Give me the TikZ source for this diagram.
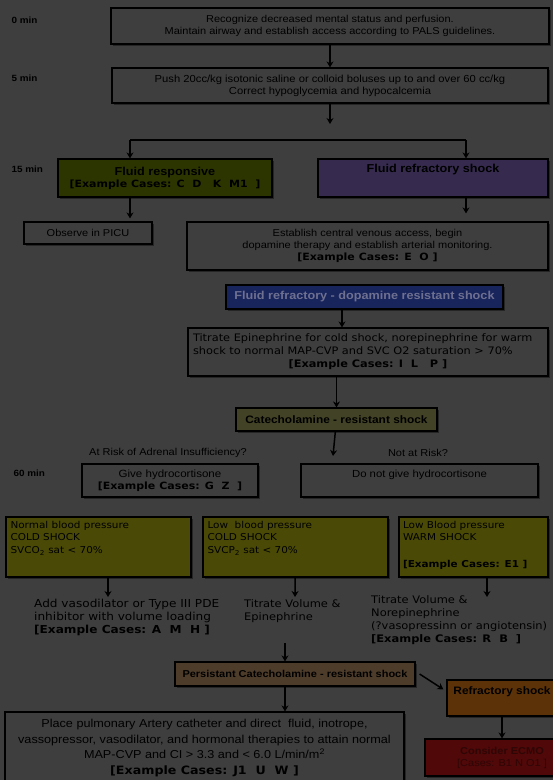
\documentclass[tikz,border=0pt]{standalone}
\usepackage{fontspec}
\setmainfont[FakeStretch=1.1]{Liberation Sans}
\newfontfamily\verd[FakeStretch=1.1]{DejaVu Sans}
\usetikzlibrary{arrows.meta, shadows}
\definecolor{grund}{HTML}{3E3E3E}
\definecolor{schrift}{HTML}{000000}
\definecolor{gruen}{HTML}{2C3500}
\definecolor{lila}{HTML}{362B4E}
\definecolor{blau}{HTML}{18245C}
\definecolor{blauschrift}{HTML}{6E7090}
\definecolor{oliv}{HTML}{424226}
\definecolor{senf}{HTML}{4A4A06}
\definecolor{braun}{HTML}{4E3C2A}
\definecolor{rost}{HTML}{5C3208}
\definecolor{rot}{HTML}{500808}
\definecolor{rotschrift}{HTML}{2E0606}

\newcommand{\fall}[1]{{\verd\bfseries [Example Cases: #1]}}
\newcommand{\obentext}[3]{\parbox[c][#2][t]{#1}{#3}}

\begin{document}
\begin{tikzpicture}[x=1pt, y=-1pt,
    kasten/.style={draw=black, line width=1.2pt, fill=grund, text=schrift, align=center,
      font=\fontsize{10}{12}\selectfont, inner sep=2pt,
      drop shadow={shadow xshift=2pt, shadow yshift=-2pt, fill=black, opacity=.4}},
    zeit/.style={anchor=west, font=\fontsize{9}{10}\selectfont\bfseries, text=schrift},
    frage/.style={font=\fontsize{10}{11}\selectfont, text=schrift},
    hinweis/.style={anchor=north west, align=left, text=schrift, inner sep=0pt,
      font=\verd\fontsize{10.4}{13}\selectfont},
    titel/.style={font=\fontsize{11.5}{13}\selectfont\bfseries},
    pfeil/.style={-{Stealth[length=6pt, width=7pt]}, line width=1.5pt, draw=black}]

  % Hintergrund
  \fill[grund] (0,0) rectangle (553,780);
  \clip (0,0) rectangle (553,780);

  % Zeitmarken
  \node[zeit] (t0)  at (8,20)  {0 min};
  \node[zeit] (t5)  at (8,78)  {5 min};
  \node[zeit] (t15) at (8,169) {15 min};
  \node[zeit] (t60) at (10,473) {60 min};

  % Erstversorgung
  \node[kasten, minimum width=438, minimum height=36] (erkennen) at (330,26)
    {Recognize decreased mental status and perfusion.\\
     Maintain airway and establish access according to PALS guidelines.};
  \node[kasten, minimum width=436, minimum height=35, font=\fontsize{10.2}{12}\selectfont] (bolus) at (330,85.5)
    {Push 20cc/kg isotonic saline or colloid boluses up to and over 60 cc/kg\\
     Correct hypoglycemia and hypocalcemia};
  \coordinate (bolusende) at (330,124);
  \coordinate (gabellinks) at (130,140);
  \coordinate (gabelrechts) at (466,140);

  % 15 min
  \node[kasten, fill=gruen, minimum width=214, minimum height=38] (responsiv) at (165,178)
    {{\fontsize{11.5}{12}\selectfont\bfseries Fluid responsive}\\ \fall{C\ \ D\ \ \ K\ \ M1\ \ }};
  \node[kasten, fill=lila, titel, minimum width=230, minimum height=38] (refraktaer) at (433,178)
    {\obentext{222pt}{30pt}{\centering\vspace*{1pt}Fluid refractory shock}};
  \node[kasten, minimum width=128, minimum height=22] (beobachten) at (88,233)
    {Observe in PICU};
  \node[kasten, minimum width=361, minimum height=48] (zentral) at (367.5,246)
    {Establish central venous access, begin\\
     dopamine therapy and establish arterial monitoring.\\
     \fall{E\ \ O }};

  % Dopaminresistenz
  \node[kasten, fill=blau, text=blauschrift, minimum width=277, minimum height=24, titel] (dopamin) at (364.5,297)
    {Fluid refractory - dopamine resistant shock};
  \node[kasten, minimum width=360, minimum height=48] (titrieren) at (368,352)
    {\parbox{350pt}{\verd\fontsize{10.3}{13}\selectfont\raggedright
      Titrate Epinephrine for cold shock, norepinephrine for warm\\
      shock to normal MAP-CVP and SVC O2 saturation > 70\%\par
      \centering\fall{I\ \ L\ \ \ P }\par}};
  \node[kasten, fill=oliv, minimum width=201, minimum height=23, font=\fontsize{10.8}{12}\selectfont\bfseries] (katechol) at (336.5,419.5)
    {Catecholamine - resistant shock};
  \coordinate (katecholende) at (333,456);

  % 60 min
  \node[frage] (risiko) at (168,453) {At Risk of Adrenal Insufficiency?};
  \node[frage] (keinrisiko) at (418,453) {Not at Risk?};
  \node[kasten, minimum width=176, minimum height=33] (geben) at (170,480.5)
    {{\fontsize{10.5}{12}\selectfont Give hydrocortisone}\\ \fall{G\ \ Z\ \ }};
  \node[kasten, minimum width=237, minimum height=33, font=\fontsize{10.3}{12}\selectfont] (nichtgeben) at (419.5,480.5)
    {\obentext{228pt}{25pt}{\centering\vspace*{2pt}Do not give hydrocortisone}};

  % Schocktypen
  \node[kasten, fill=senf, minimum width=185, minimum height=60] (kaltnormal) at (98.5,547)
    {\obentext{176pt}{52pt}{\verd\fontsize{9.5}{12.5}\selectfont\raggedright
      Normal blood pressure\\COLD SHOCK\\SVCO\textsubscript{2} sat < 70\%}};
  \node[kasten, fill=senf, minimum width=185, minimum height=60] (kaltniedrig) at (295.5,547)
    {\obentext{176pt}{52pt}{\verd\fontsize{9.5}{12.5}\selectfont\raggedright
      Low\ \ blood pressure\\COLD SHOCK\\SVCP\textsubscript{2} sat < 70\%}};
  \node[kasten, fill=senf, minimum width=149, minimum height=60] (warm) at (473.5,547)
    {\obentext{141pt}{52pt}{\verd\fontsize{9.5}{12.5}\selectfont\raggedright
      Low Blood pressure\\WARM SHOCK\\[14pt]\fall{E1 }}};
  \coordinate (kaltnormalende) at (108,597);
  \coordinate (kaltniedrigende) at (295,597);
  \coordinate (warmende) at (487,597);

  % Therapie je Schocktyp
  \node[hinweis, font=\verd\fontsize{11}{13}\selectfont] (vasodilator) at (34,599)
    {Add vasodilator or Type III PDE\\inhibitor with volume loading\\\fall{A\ \ M\ \ H }};
  \node[hinweis] (epinephrin) at (244,599)
    {Titrate Volume \&\\Epinephrine};
  \node[hinweis] (norepinephrin) at (371,595)
    {Titrate Volume \&\\Norepinephrine\\(?vasopressinn or angiotensin)\\\fall{R\ \ B\ \ }};
  \coordinate (epinephrinende) at (285,643);

  % Persistierender Schock
  \node[kasten, fill=braun, minimum width=240, minimum height=24, font=\fontsize{10}{12}\selectfont\bfseries] (persistent) at (295,674)
    {Persistant Catecholamine - resistant shock};
  \node[kasten, fill=rost, minimum width=110, minimum height=36, font=\fontsize{10.8}{12}\selectfont\bfseries] (refraktaerschock) at (502,698)
    {\obentext{100pt}{28pt}{\centering\vspace*{3pt}Refractory shock}};
  \node[kasten, fill=rot, text=rotschrift, minimum width=154, minimum height=37] (ecmo) at (502,757.5)
    {\bfseries Consider ECMO\\ {[}Cases: B1 N O1 {]}};
  \node[kasten, minimum width=399, minimum height=72, font=\fontsize{11.5}{15.5}\selectfont] (katheter) at (204.5,748)
    {Place pulmonary Artery catheter and direct\ \ fluid, inotrope,\\
     vassopressor, vasodilator, and hormonal therapies to attain normal\\
     MAP-CVP and CI > 3.3 and < 6.0 L/min/m\textsuperscript{2}\\
     \fall{J1\ \ U\ \ W }};

  % Pfeile
  \draw[pfeil] (erkennen) -- (bolus);
  \draw[pfeil] (bolus) -- (bolusende);
  \draw[line width=1.5pt] (gabellinks) -- (gabelrechts);
  \draw[pfeil] (gabellinks) -- (gabellinks |- responsiv.north);
  \draw[pfeil] (gabelrechts) -- (gabelrechts |- refraktaer.north);
  \draw[pfeil] (gabellinks |- responsiv.south) -- ([yshift=3pt]gabellinks |- beobachten.north);
  \draw[pfeil] (gabelrechts |- refraktaer.south) -- ([yshift=8pt]gabelrechts |- zentral.north);
  \draw[pfeil] (dopamin.south -| 342,0) -- (titrieren.north -| 342,0);
  \draw[pfeil] (titrieren.south -| katechol) -- (katechol);
  \draw[pfeil] (katechol) -- (katecholende);
  \draw[pfeil] (kaltnormal.south -| kaltnormalende) -- (kaltnormalende);
  \draw[pfeil] (kaltniedrig) -- (kaltniedrigende);
  \draw[pfeil] (warm.south -| warmende) -- (warmende);
  \draw[pfeil] (epinephrinende) -- (epinephrinende |- persistent.north);
  \draw[pfeil] (persistent.south -| epinephrinende) -- (epinephrinende |- katheter.north);
  \draw[pfeil] ([xshift=4pt]persistent.east) -- ([shift={(-3pt,-10pt)}]refraktaerschock.north west);
  \draw[pfeil] (refraktaerschock) -- (ecmo);
\end{tikzpicture}
\end{document}
